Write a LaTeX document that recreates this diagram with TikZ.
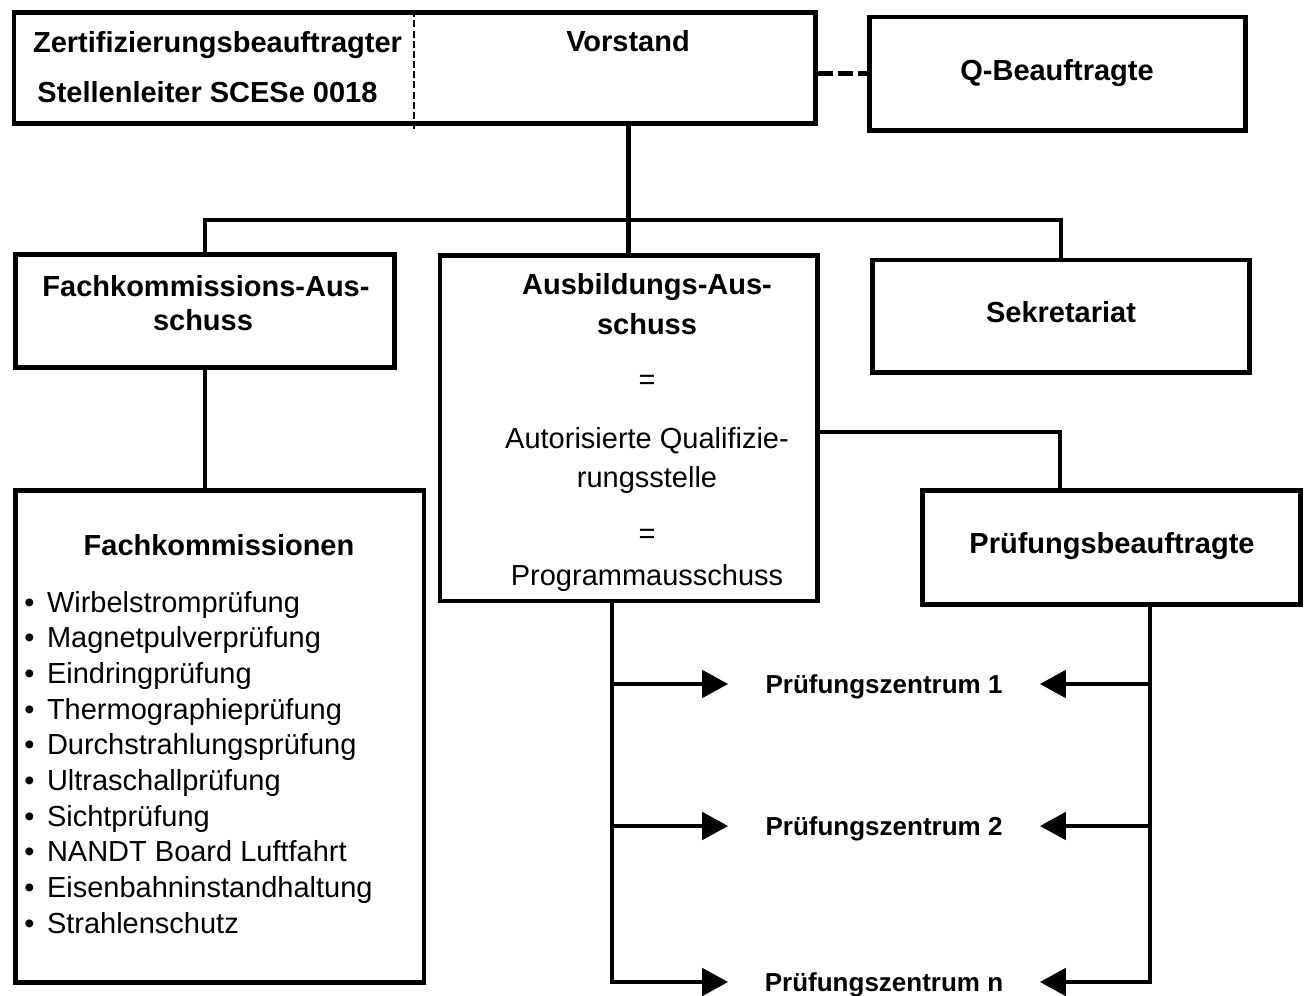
\documentclass[tikz,border=0pt]{standalone}
\usepackage{fontspec}
\setmainfont{Liberation Sans}
\usepackage{tikz}
\usetikzlibrary{arrows.meta}

\begin{document}
\begin{tikzpicture}[x=0.02cm,y=-0.02cm,
    box/.style={draw,line width=2.7pt,inner sep=0pt},
    conn/.style={line width=2.7pt},
    lbl/.style={anchor=base,inner sep=0pt,font=\fontsize{16.5}{19}\selectfont\bfseries},
    txt/.style={anchor=base,inner sep=0pt,font=\fontsize{16.5}{19}\selectfont},
    pz/.style={inner sep=0pt,minimum width=6.22cm,text height=0.372cm,text depth=0pt,
      font=\fontsize{14.8}{17}\selectfont\bfseries},
    arr/.style={line width=2.7pt,-{Triangle[length=14.8pt,width=15.4pt]}}]
  \useasboundingbox (0,0) rectangle (1307,996);

  % top row
  \node[box,minimum width=16.03cm,minimum height=2.22cm] (topbox) at (414.75,68) {};
  \node[lbl] (zert) at (217.5,53) {Zertifizierungsbeauftragter};
  \node[lbl] (stelle) at (207.5,103) {Stellenleiter SCESe 0018};
  \node[lbl] (vorstand) at (628,52) {Vorstand};
  \coordinate (divbot) at (414,130);
  \draw[line width=1.3pt,dash pattern=on 4pt off 1.8pt] (topbox.north -| divbot) -- (divbot);

  \node[box,minimum width=7.52cm,minimum height=2.27cm] (q) at (1057.5,73.75) {};
  \node[lbl] (qtext) at (1057,81) {Q-Beauftragte};
  \draw[line width=2.9pt,dash pattern=on 8.5pt off 2.8pt] (topbox.east |- q.west) -- (q.west);

  % second row
  \node[box,minimum width=7.58cm,minimum height=2.26cm] (fa) at (205,311) {};
  \node[lbl] (fa1) at (206,297) {Fachkommissions-Aus-};
  \node[lbl] (fa2) at (203,331) {schuss};

  \node[box,minimum width=7.55cm,minimum height=6.91cm] (aa) at (628.75,428.25) {};
  \node[lbl] (aa1) at (647,295) {Ausbildungs-Aus-};
  \node[lbl] (aa2) at (647,335) {schuss};
  \node[txt] (aa3) at (647,390) {=};
  \node[txt] (aa4) at (647,448) {Autorisierte Qualifizie-};
  \node[txt] (aa5) at (647,487) {rungsstelle};
  \node[txt] (aa6) at (647,543) {=};
  \node[txt] (aa7) at (647,585) {Programmausschuss};

  \node[box,minimum width=7.54cm,minimum height=2.25cm] (sek) at (1061,316.25) {};
  \node[lbl] (sektext) at (1061,323) {Sekretariat};

  \coordinate (bus) at (628,220);
  \draw[conn] (topbox.south -| aa.north) -- (aa.north);
  \draw[conn] (fa.north) |- (bus) -| (sek.north);

  % Fachkommissionen
  \node[box,minimum width=8.17cm,minimum height=9.84cm] (fk) at (219.75,736.5) {};
  \node[lbl] (fktitle) at (219,555) {Fachkommissionen};
  \foreach \fach [count=\i from 0] in {Wirbelstromprüfung,Magnetpulverprüfung,
      Eindringprüfung,Thermographieprüfung,Durchstrahlungsprüfung,Ultraschallprüfung,
      Sichtprüfung,NANDT Board Luftfahrt,Eisenbahninstandhaltung,Strahlenschutz}
    \node[txt,anchor=base west] (fk\i) at (24,612+35.67*\i) {\makebox[0.454cm][l]{\textbullet}\fach};
  \draw[conn] (fa.south) -- (fa.south |- fk.north);

  % Pruefungsbeauftragte
  \node[box,minimum width=7.56cm,minimum height=2.28cm] (pb) at (1111.5,547.5) {};
  \node[lbl] (pbtext) at (1112,553) {Prüfungsbeauftragte};
  \coordinate (pbin) at (1060,432);
  \draw[conn] (aa.east |- pbin) -- (pbin) -- (pbin |- pb.north);

  % Pruefungszentren
  \coordinate (lbot) at (612,982);
  \coordinate (rbot) at (1150,982);
  \foreach \n/\y in {1/684,2/826,n/982}
    \node[pz] (pz\n) at (884,\y) {Prüfungszentrum \n};
  \draw[arr] (aa.south -| lbot) |- (pzn);
  \draw[arr] (pb.south -| rbot) |- (pzn);
  \foreach \n in {1,2} {
    \draw[arr] (lbot |- pz\n) -- (pz\n);
    \draw[arr] (rbot |- pz\n) -- (pz\n);
  }
\end{tikzpicture}
\end{document}
